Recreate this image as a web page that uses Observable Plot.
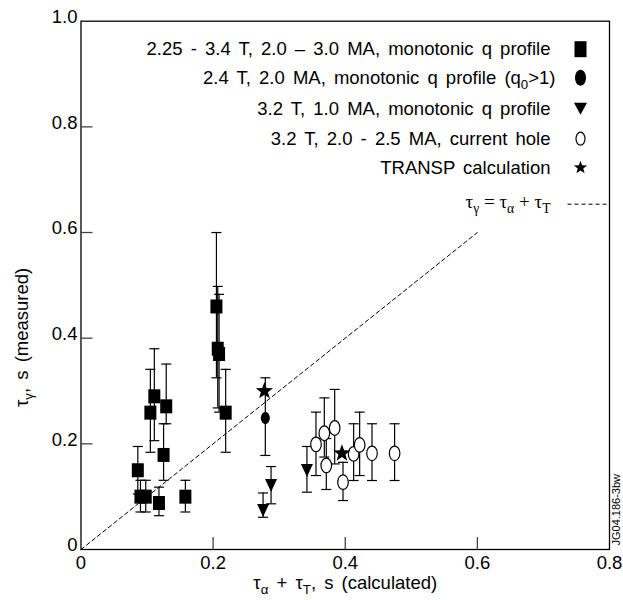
<!DOCTYPE html>
<html><head><meta charset="utf-8">
<script src="https://cdn.jsdelivr.net/npm/d3@7"></script>
<script src="https://cdn.jsdelivr.net/npm/@observablehq/plot@0.6"></script>
<style>body{margin:0;background:#fff}</style>
</head><body><div id="chart"></div>
<script>
// ---- data ----
const squareX  = [0.086, 0.090, 0.098, 0.105, 0.111, 0.118, 0.125, 0.129, 0.158, 0.205, 0.207, 0.209, 0.219];
const squareY  = [0.150, 0.100, 0.100, 0.259, 0.290, 0.088, 0.179, 0.271, 0.100, 0.460, 0.380, 0.370, 0.259];
const squareLo = [0.105, 0.071, 0.071, 0.184, 0.206, 0.064, 0.131, 0.238, 0.071, 0.325, 0.268, 0.260, 0.184];
const squareHi = [0.195, 0.131, 0.131, 0.341, 0.380, 0.118, 0.238, 0.351, 0.131, 0.600, 0.498, 0.483, 0.341];

const circleX  = [0.279];
const circleY  = [0.249];
const circleLo = [0.178];
const circleHi = [0.325];

const triX  = [0.2756, 0.2877, 0.342];
const triY  = [0.074, 0.121, 0.1495];
const triLo = [0.061, 0.0865, 0.1085];
const triHi = [0.107, 0.157, 0.195];

const holeX  = [0.3557, 0.3683, 0.384, 0.3713, 0.3966, 0.4127, 0.4218, 0.4405, 0.4747];
const holeY  = [0.199, 0.220, 0.230, 0.159, 0.1275, 0.181, 0.198, 0.182, 0.182];
const holeLo = [0.140, 0.175, 0.162, 0.1136, 0.0927, 0.1306, 0.140, 0.1306, 0.1306];
const holeHi = [0.260, 0.287, 0.303, 0.210, 0.165, 0.238, 0.260, 0.238, 0.238];

const starX = [0.2776, 0.395];
const starY = [0.300, 0.182];

const identityLine = [0, 0.6];

const xTicks = [0, 0.2, 0.4, 0.6, 0.8];
const xTickLabels = ["0", "0.2", "0.4", "0.6", "0.8"];
const yTicks = [0, 0.2, 0.4, 0.6, 0.8, 1.0];
const yTickLabels = ["0", "0.2", "0.4", "0.6", "0.8", "1.0"];
const xInnerTicks = [0.2, 0.4, 0.6];
const yInnerTicks = [0.2, 0.4, 0.6, 0.8];

const legendLabels = [
  "2.25 - 3.4 T, 2.0 \u2013 3.0 MA, monotonic q profile",
  "2.4 T, 2.0 MA, monotonic q profile (q_0>1)",
  "3.2 T, 1.0 MA, monotonic q profile",
  "3.2 T, 2.0 - 2.5 MA, current hole",
  "TRANSP calculation",
  "\u03c4_\u03b3 = \u03c4_\u03b1 + \u03c4_T"
];
const xTitle = "\u03c4_\u03b1 + \u03c4_T, s (calculated)";
const yTitle = "\u03c4_\u03b3, s (measured)";
const stamp = "JG04.186-3bw";

// ---- layout ----
const W = 623, H = 600, mL = 80.5, mR = 14, mT = 20.7, mB = 51;
const plotW = W - mL - mR, plotH = H - mT - mB;
const SANS = "'Liberation Sans', Arial, Helvetica, sans-serif";
const SERIF = "'Liberation Serif', 'Times New Roman', serif";

// ---- symbols ----
const K = 0.5523;
function ellipse(rx, ry) {
  return {draw(c) {
    c.moveTo(rx, 0);
    c.bezierCurveTo(rx, ry * K, rx * K, ry, 0, ry);
    c.bezierCurveTo(-rx * K, ry, -rx, ry * K, -rx, 0);
    c.bezierCurveTo(-rx, -ry * K, -rx * K, -ry, 0, -ry);
    c.bezierCurveTo(rx * K, -ry, rx, -ry * K, rx, 0);
    c.closePath();
  }};
}
function rect(w, h) { return {draw(c) { c.rect(-w / 2, -h / 2, w, h); }}; }
function triDown(w, h) { return {draw(c) { c.moveTo(-w / 2, -h / 2); c.lineTo(w / 2, -h / 2); c.lineTo(0, h / 2); c.closePath(); }}; }
function star(R, r) {
  return {draw(c) {
    for (let i = 0; i < 10; i++) {
      const a = -Math.PI / 2 + i * Math.PI / 5, rad = i % 2 ? r : R;
      const px = Math.cos(a) * rad, py = Math.sin(a) * rad;
      i ? c.lineTo(px, py) : c.moveTo(px, py);
    }
    c.closePath();
  }};
}
function hline(half) { return {draw(c) { c.moveTo(-half, 0); c.lineTo(half, 0); }}; }

const cap = hline(5);

// ---- tables ----
const mk = (X, Y, Lo, Hi) => X.map((x, i) => ({x, y: Y[i], lo: Lo ? Lo[i] : null, hi: Hi ? Hi[i] : null}));
const squares = mk(squareX, squareY, squareLo, squareHi);
const circles = mk(circleX, circleY, circleLo, circleHi);
const tris = mk(triX, triY, triLo, triHi);
const holes = mk(holeX, holeY, holeLo, holeHi);
const stars = mk(starX, starY);
const errs = [...squares, ...circles, ...tris, ...holes];

const legendSymbols = [rect(12, 16), ellipse(5.5, 8), triDown(13, 12), ellipse(4.5, 6.5), star(7, 2.9)];
const legendFill = ["black", "black", "black", "white", "black"];
const legendStroke = ["none", "none", "none", "black", "none"];
const rowDy = [28, 56.5, 87.5, 117.5, 146.5, 181];

const marks = [
  Plot.frame({stroke: "black", strokeWidth: 1.3}),
  Plot.tickX(xInnerTicks, {x: d => d, insetTop: plotH - 12, stroke: "#444", strokeWidth: 1.3}),
  Plot.tickY(yInnerTicks, {y: d => d, insetRight: plotW - 12, stroke: "#444", strokeWidth: 1.3}),
  Plot.line(identityLine, {x: d => d, y: d => d, stroke: "black", strokeWidth: 1, strokeDasharray: "4,3"}),
  Plot.ruleX(errs, {x: "x", y1: "lo", y2: "hi", stroke: "black", strokeWidth: 1.2}),
  Plot.dot(errs, {x: "x", y: "lo", symbol: cap, fill: "none", stroke: "black", strokeWidth: 1.2}),
  Plot.dot(errs, {x: "x", y: "hi", symbol: cap, fill: "none", stroke: "black", strokeWidth: 1.2}),
  Plot.dot(squares, {x: "x", y: "y", symbol: rect(12, 14), fill: "black", stroke: "none"}),
  Plot.dot(circles, {x: "x", y: "y", symbol: ellipse(4.5, 6), fill: "black", stroke: "none"}),
  Plot.dot(tris, {x: "x", y: "y", symbol: triDown(12, 13), fill: "black", stroke: "none"}),
  Plot.dot(holes, {x: "x", y: "y", symbol: ellipse(5.3, 7.3), fill: "white", stroke: "black", strokeWidth: 1.2}),
  Plot.dot(stars, {x: "x", y: "y", symbol: star(9, 3.7), fill: "black", stroke: "none"}),
  // tick labels
  Plot.text(xTicks, {x: d => d, frameAnchor: "bottom", dy: 14, text: (d, i) => xTickLabels[i], textAnchor: "middle", lineAnchor: "middle", fontSize: 18.5, fill: "black"}),
  Plot.text(yTicks, {y: d => d, frameAnchor: "left", dx: -3.5, dy: -4, text: (d, i) => yTickLabels[i], textAnchor: "end", lineAnchor: "middle", fontSize: 18.5, fill: "black"}),
  // axis titles
  Plot.text([xTitle], {x: null, y: null, text: d => d, frameAnchor: "bottom", dy: 34, textAnchor: "middle", lineAnchor: "middle", fontSize: 18.5, fill: "black"}),
  Plot.text([yTitle], {x: null, y: null, text: d => d, frameAnchor: "left", dx: -59, dy: 52, rotate: -90, textAnchor: "middle", lineAnchor: "middle", fontSize: 18.5, fill: "black"}),
  // stamp
  Plot.text([stamp], {x: null, y: null, text: d => d, frameAnchor: "bottom-right", dx: 7, dy: -4, rotate: -90, textAnchor: "start", lineAnchor: "middle", fontSize: 11, fill: "black"})
];

// legend
legendLabels.forEach((lab, i) => {
  marks.push(Plot.text([lab], {x: null, y: null, text: d => d, frameAnchor: "top-right", dx: i === 1 ? -54 : -59, dy: rowDy[i],
    textAnchor: "end", lineAnchor: "middle", fontSize: i === 5 ? 19 : 18.5, fontFamily: i === 5 ? SERIF : SANS, fill: "black"}));
  if (i < 5) {
    marks.push(Plot.dot([0], {x: null, y: null, frameAnchor: "top-right", dx: -29, dy: rowDy[i], symbol: legendSymbols[i],
      fill: legendFill[i], stroke: legendStroke[i], strokeWidth: 1.2}));
  } else {
    marks.push(Plot.dot([0], {x: null, y: null, frameAnchor: "top-right", dx: -21.5, dy: rowDy[i] + 2, symbol: hline(20.5),
      fill: "none", stroke: "black", strokeWidth: 1, strokeDasharray: "4,3"}));
  }
});

const chart = Plot.plot({
  width: W, height: H,
  marginLeft: mL, marginRight: mR, marginTop: mT, marginBottom: mB,
  x: {domain: [0, 0.8], axis: null},
  y: {domain: [0, 1], axis: null},
  style: {fontFamily: SANS, background: "white", overflow: "visible"},
  marks
});

// wider word spacing (as in the reference) + subscripts ("_x" -> subscript tspan)
d3.select(chart).selectAll("text").each(function () {
  const s = this.textContent;
  const isLegendSans = legendLabels.indexOf(s) >= 0 && legendLabels.indexOf(s) < 5;
  if (isLegendSans || s === xTitle || s === yTitle) this.setAttribute("word-spacing", "3");
  if (!s.includes("_")) return;
  const fs = parseFloat(this.getAttribute("font-size")) || parseFloat(this.parentNode.getAttribute("font-size")) || 18;
  const shift = Math.round(fs * 0.28);
  const parts = s.split(/_(.)/);
  const el = d3.select(this);
  el.selectAll("*").remove();
  this.textContent = "";
  let lowered = false;
  parts.forEach((p, i) => {
    if (!p) return;
    const sub = i % 2 === 1;
    const t = el.append("tspan").text(p);
    if (sub && !lowered) { t.attr("dy", shift).attr("font-size", (fs * 0.72).toFixed(1)); lowered = true; }
    else if (sub) { t.attr("font-size", (fs * 0.72).toFixed(1)); }
    else if (lowered) { t.attr("dy", -shift); lowered = false; }
  });
});

document.getElementById("chart").appendChild(chart);
</script>
</body></html>
